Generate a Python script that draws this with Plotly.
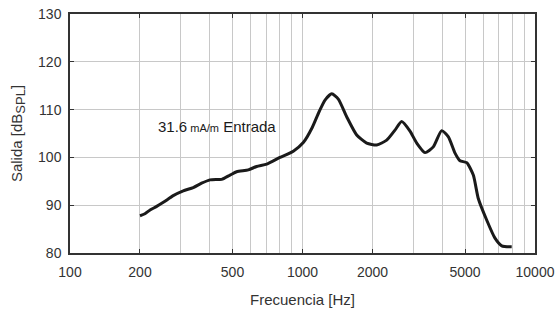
import plotly.graph_objects as go

freq_hz = [200, 210, 221, 235, 252, 278, 307, 339, 368, 400, 425, 449, 488, 521, 585,
           635, 702, 800, 913, 1008, 1100, 1180, 1250, 1336, 1426, 1549, 1710, 1888,
           2085, 2302, 2499, 2671, 2900, 3100, 3365, 3652, 3969, 4241, 4529, 4757,
           5085, 5428, 5703, 6196, 6728, 7193, 7940]
salida_db = [87.8, 88.2, 89.0, 89.7, 90.6, 92.0, 93.0, 93.7, 94.6, 95.3, 95.4, 95.4,
             96.3, 97.0, 97.4, 98.1, 98.6, 100.0, 101.3, 103.1, 106.2, 109.6, 112.0,
             113.3, 112.2, 108.5, 104.7, 103.0, 102.6, 103.6, 105.7, 107.5, 105.5,
             103.0, 101.0, 102.2, 105.6, 104.3, 100.9, 99.3, 98.9, 96.3, 91.4, 86.9,
             83.1, 81.5, 81.3]

x_tickvals = [100, 200, 500, 1000, 2000, 5000, 10000]
x_ticktext = ["100", "200", "500", "1000", "2000", "5000", "10000"]
x_minor_grid = [300, 400, 600, 700, 800, 900, 3000, 4000, 6000, 7000, 8000, 9000]
y_tickvals = [80, 90, 100, 110, 120, 130]

FONT = "Liberation Sans, Arial, sans-serif"
AXC = "#333333"

fig = go.Figure()
fig.add_trace(go.Scatter(
    x=freq_hz, y=salida_db, mode="lines",
    line=dict(color="#1a1a1a", width=3, shape="spline", smoothing=0.6),
    showlegend=False, hoverinfo="skip"))

fig.add_annotation(
    x=0.185, y=106.4, xref="paper", yref="y",
    text='31.6<span style="font-size:11px"> mA/m</span> Entrada',
    showarrow=False, xanchor="left", yanchor="middle",
    font=dict(family=FONT, size=15, color="#1a1a1a"))

# plot area at x 70..535, y 14..253 of the 559x309 window
fig.update_layout(
    width=559, height=309,
    margin=dict(l=70, r=24, t=14, b=56),
    paper_bgcolor="white", plot_bgcolor="white",
    font=dict(family=FONT, color=AXC),
    xaxis=dict(
        type="log", range=[2, 4], automargin=False,
        tickvals=x_tickvals, ticktext=x_ticktext, ticklabeloverflow="allow",
        ticks="inside", ticklen=4, tickcolor=AXC, ticklabelstandoff=5,
        showline=True, linecolor=AXC, linewidth=1.5, mirror="ticks",
        showgrid=True, gridcolor="#c8c8c8", gridwidth=1,
        minor=dict(tickvals=x_minor_grid, showgrid=True, gridcolor="#c8c8c8",
                   gridwidth=1, ticks=""),
        tickfont=dict(size=14, color=AXC),
        title=dict(text="Frecuencia [Hz]", font=dict(size=15, color=AXC), standoff=16),
        zeroline=False,
    ),
    yaxis=dict(
        range=[80, 130], tickvals=y_tickvals, automargin=False, ticklabeloverflow="allow",
        ticks="inside", ticklen=4, tickcolor=AXC, ticklabelstandoff=4,
        showline=True, linecolor=AXC, linewidth=1.5, mirror="ticks",
        showgrid=True, gridcolor="#c8c8c8", gridwidth=1,
        tickfont=dict(size=14, color=AXC),
        title=dict(text='Salida [dB<sub><span style="font-size:13px">SPL</span></sub>]',
                   font=dict(size=15, color=AXC), standoff=12),
        zeroline=False,
    ),
)

fig.write_html("out.html",
               config={"displayModeBar": False},
               post_script="document.body.style.margin='0';document.body.style.padding='0';")
